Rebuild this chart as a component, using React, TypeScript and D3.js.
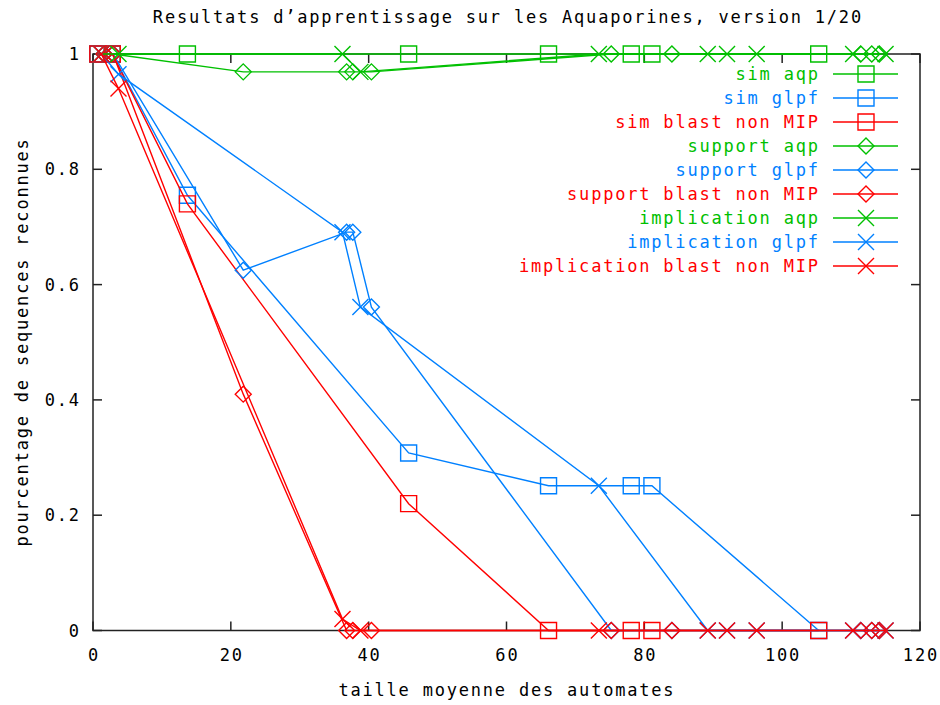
import React from "react";
import * as d3 from "d3";

// ---- data ----
const simX = [0.7, 2.8, 13.7, 45.8, 66.1, 78.1, 81.1, 105.3];
const simAqp = [1, 1, 1, 1, 1, 1, 1, 1];
const simGlpf = [1, 1, 0.755, 0.308, 0.251, 0.251, 0.251, 0];
const simBlast = [1, 1, 0.74, 0.22, 0, 0, 0, 0];

const supportX = [1.6, 2.9, 21.8, 36.8, 37.7, 40.4, 75.2, 84.0, 111.4, 113.0, 114.1];
const supportAqp = [1, 1, 0.969, 0.969, 0.969, 0.969, 1, 1, 1, 1, 1];
const supportGlpf = [1, 1, 0.625, 0.691, 0.691, 0.561, 0, 0, 0, 0, 0];
const supportBlast = [1, 1, 0.41, 0, 0, 0, 0, 0, 0, 0, 0];

const implX = [1.2, 3.7, 36.2, 38.8, 73.4, 89.2, 92.0, 96.3, 110.3, 115.0];
const implAqp = [1, 1, 1, 0.969, 1, 1, 1, 1, 1, 1];
const implGlpf = [1, 0.965, 0.691, 0.561, 0.251, 0, 0, 0, 0, 0];
const implBlast = [1, 0.94, 0.02, 0, 0, 0, 0, 0, 0, 0];

const xTicks = [0, 20, 40, 60, 80, 100, 120];
const yTicks = [0, 0.2, 0.4, 0.6, 0.8, 1];

const titleText = "Resultats d\u2019apprentissage sur les Aquaporines, version 1/20";
const xLabel = "taille moyenne des automates";
const yLabel = "pourcentage de sequences reconnues";

const GREEN = "#00c000";
const BLUE = "#0080ff";
const RED = "#ff0000";

type Series = { name: string; xs: number[]; ys: number[]; color: string; marker: "square" | "diamond" | "x" };

const series: Series[] = [
  { name: "sim aqp", xs: simX, ys: simAqp, color: GREEN, marker: "square" },
  { name: "sim glpf", xs: simX, ys: simGlpf, color: BLUE, marker: "square" },
  { name: "sim blast non MIP", xs: simX, ys: simBlast, color: RED, marker: "square" },
  { name: "support aqp", xs: supportX, ys: supportAqp, color: GREEN, marker: "diamond" },
  { name: "support glpf", xs: supportX, ys: supportGlpf, color: BLUE, marker: "diamond" },
  { name: "support blast non MIP", xs: supportX, ys: supportBlast, color: RED, marker: "diamond" },
  { name: "implication aqp", xs: implX, ys: implAqp, color: GREEN, marker: "x" },
  { name: "implication glpf", xs: implX, ys: implGlpf, color: BLUE, marker: "x" },
  { name: "implication blast non MIP", xs: implX, ys: implBlast, color: RED, marker: "x" },
];

const W = 940;
const H = 705;
const left = 93;
const right = 920;
const top = 54;
const bottom = 630.5;

const FONT = "'DejaVu Sans Mono', 'Liberation Mono', monospace";
const FS = 17;
const LS = 1.8;

function markerPath(m: string): string {
  if (m === "square") return "M-8,-8H8V8H-8Z";
  if (m === "diamond") return "M0,-8L8,0L0,8L-8,0Z";
  return "M-8,-8L8,8M-8,8L8,-8";
}

export default function App() {
  const x = d3.scaleLinear().domain([0, 120]).range([left, right]);
  const y = d3.scaleLinear().domain([0, 1]).range([bottom, top]);
  const line = d3
    .line<[number, number]>()
    .x((d) => x(d[0]))
    .y((d) => y(d[1]));

  const textStyle: React.CSSProperties = { fontFamily: FONT, fontSize: FS, letterSpacing: LS };

  return (
    <svg
      width={W}
      height={H}
      style={{ position: "absolute", left: 0, top: 0, background: "#fff" }}
    >
      <rect x={0} y={0} width={W} height={H} fill="#fff" />
      {/* border */}
      <rect x={left} y={top} width={right - left} height={bottom - top} fill="none" stroke="#222" strokeWidth={1.5} />
      {/* ticks */}
      {xTicks.map((t) => (
        <g key={"xt" + t}>
          <line x1={x(t)} x2={x(t)} y1={bottom} y2={bottom - 9} stroke="#222" strokeWidth={1.5} />
          <line x1={x(t)} x2={x(t)} y1={top} y2={top + 9} stroke="#222" strokeWidth={1.5} />
          <text x={x(t) + LS / 2} y={655} textAnchor="middle" dominantBaseline="central" style={textStyle} fill="#000">
            {String(t)}
          </text>
        </g>
      ))}
      {yTicks.map((t) => (
        <g key={"yt" + t}>
          <line x1={left} x2={left + 9} y1={y(t)} y2={y(t)} stroke="#222" strokeWidth={1.5} />
          <line x1={right} x2={right - 9} y1={y(t)} y2={y(t)} stroke="#222" strokeWidth={1.5} />
          <text x={79 + LS} y={y(t)} textAnchor="end" dominantBaseline="central" style={textStyle} fill="#000">
            {String(t)}
          </text>
        </g>
      ))}
      {/* title and axis labels */}
      <text x={507 + LS / 2} y={17} textAnchor="middle" dominantBaseline="central" style={textStyle} fill="#000">
        {titleText}
      </text>
      <text x={506 + LS / 2} y={690} textAnchor="middle" dominantBaseline="central" style={textStyle} fill="#000">
        {xLabel}
      </text>
      <text
        transform={`translate(22,${342}) rotate(-90)`}
        textAnchor="middle"
        dominantBaseline="central"
        style={textStyle}
        fill="#000"
      >
        {yLabel}
      </text>
      {/* series */}
      {series.map((s, i) => {
        const pts: [number, number][] = s.xs.map((xv, j) => [xv, s.ys[j]]);
        const ly = 74 + i * 24;
        return (
          <g key={s.name}>
            <path d={line(pts) || ""} fill="none" stroke={s.color} strokeWidth={1.4} />
            {pts.map((p, j) => (
              <path
                key={j}
                d={markerPath(s.marker)}
                transform={`translate(${x(p[0])},${y(p[1])})`}
                fill="none"
                stroke={s.color}
                strokeWidth={1.4}
              />
            ))}
            {/* legend */}
            <text x={818 + LS} y={ly} textAnchor="end" dominantBaseline="central" style={textStyle} fill={s.color}>
              {s.name}
            </text>
            <line x1={833} x2={898} y1={ly} y2={ly} stroke={s.color} strokeWidth={1.4} />
            <path d={markerPath(s.marker)} transform={`translate(866,${ly})`} fill="none" stroke={s.color} strokeWidth={1.4} />
          </g>
        );
      })}
    </svg>
  );
}
